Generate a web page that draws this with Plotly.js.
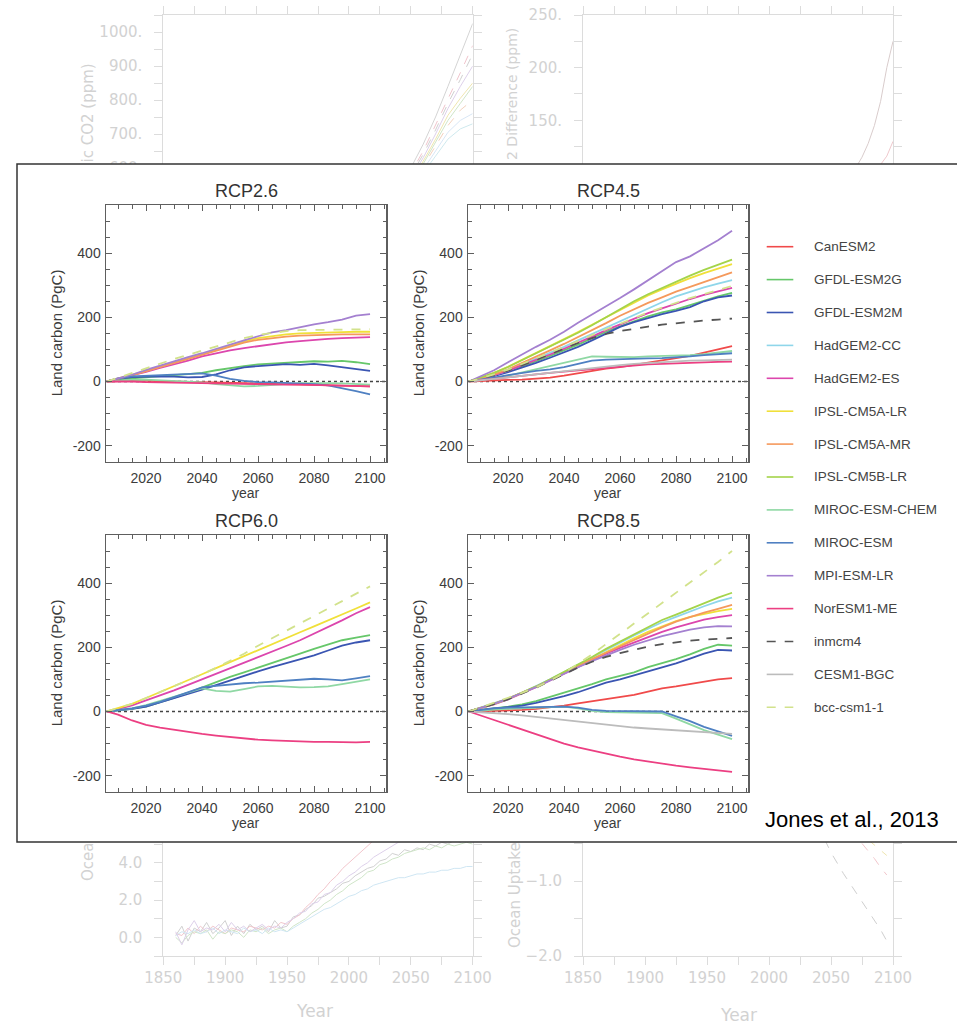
<!DOCTYPE html>
<html><head><meta charset="utf-8">
<script src="https://cdn.plot.ly/plotly-3.0.1.min.js"></script>
<style>
html,body{margin:0;padding:0;background:#fff;overflow:hidden;width:957px;height:1025px;}
#bg,#fg{position:absolute;left:0;top:0;width:957px;height:1025px;}
#fg{z-index:2;}
</style></head><body>
<div id="bg"></div><div id="fg"></div>
<script>
// ---------------- foreground data ----------------
const YEARS = [2006,2010,2015,2020,2025,2030,2035,2040,2045,2050,2055,2060,2065,2070,2075,2080,2085,2090,2095,2100];
const MODELS = ['CanESM2','GFDL-ESM2G','GFDL-ESM2M','HadGEM2-CC','HadGEM2-ES','IPSL-CM5A-LR','IPSL-CM5A-MR','IPSL-CM5B-LR','MIROC-ESM-CHEM','MIROC-ESM','MPI-ESM-LR','NorESM1-ME','inmcm4','CESM1-BGC','bcc-csm1-1'];
const COLORS = ['#f04a4a','#66c76a','#3a55b2','#8fd6ea','#dc46ad','#f0e03a','#f5995c','#a4d44a','#8fd8a4','#4f80c2','#a480d0','#ec3f82','#555555','#bcbcbc','#d2e28c'];
const DASHES = ['solid','solid','solid','solid','solid','solid','solid','solid','solid','solid','solid','solid','dash','solid','dash'];
const SCENARIOS = ['RCP2.6','RCP4.5','RCP6.0','RCP8.5'];
const X_TICKS = [2020,2040,2060,2080,2100];
const Y_TICKS = [-200,0,200,400];

const RCP26 = [
 [0,2,3,2,1,0,-2,-3,-4,-5,-6,-5,-6,-7,-8,-9,-10,-12,-14,-15],
 [0,6,10,14,17,20,23,27,35,42,48,53,56,58,62,63,62,64,60,54],
 [0,8,14,16,16,15,13,14,22,35,44,48,50,54,52,55,50,45,40,33],
 null,
 [0,8,18,30,42,53,65,78,88,97,104,110,117,122,126,130,133,135,137,138],
 [0,9,20,33,46,59,72,85,100,113,125,135,142,147,150,152,153,154,155,155],
 [0,8,19,32,45,58,71,84,97,110,121,130,136,140,143,145,146,147,147,147],
 null,
 [0,3,5,6,4,2,0,-3,-8,-12,-15,-14,-12,-8,-5,-4,-5,-6,-8,-10],
 [0,10,16,18,20,22,24,25,18,8,2,-2,-3,-4,-6,-8,-12,-20,-30,-40],
 [0,9,21,36,50,63,76,88,102,116,128,141,153,160,170,178,185,193,205,210],
 [0,1,0,-2,-3,-4,-5,-6,-7,-7,-8,-9,-9,-10,-10,-11,-12,-13,-14,-15],
 null,
 null,
 [0,12,26,42,57,70,83,96,110,124,135,145,152,157,160,161,162,163,164,163]
];
const RCP45 = [
 [0,2,4,5,6,8,12,18,26,34,40,45,52,60,66,72,80,90,100,110],
 [0,8,19,32,47,63,80,97,115,135,155,172,188,203,215,225,238,252,265,276],
 [0,7,17,29,43,58,74,90,108,128,150,170,185,198,210,220,232,250,262,268],
 [0,8,20,34,52,70,88,108,128,148,168,188,208,228,247,265,280,293,305,316],
 [0,8,20,34,50,67,84,102,120,140,160,178,196,213,228,243,257,270,282,292],
 [0,11,27,46,67,89,110,132,154,177,200,223,247,268,287,305,322,338,352,366],
 [0,9,22,38,57,77,97,117,138,160,182,205,225,245,262,280,295,310,325,340],
 [0,11,27,45,66,88,108,130,152,175,200,225,250,272,292,312,330,348,365,380],
 [0,4,10,18,28,38,48,60,70,78,77,76,76,78,79,80,82,85,90,95],
 [0,5,12,20,27,33,38,45,55,65,68,70,71,72,73,75,78,82,85,88],
 [0,15,35,60,85,108,130,155,183,208,233,260,287,315,345,372,390,415,440,470],
 [0,4,9,14,19,23,27,31,35,39,43,47,50,53,55,57,59,60,61,62],
 [0,8,20,34,50,67,85,103,120,135,148,157,165,171,177,182,186,190,193,196],
 [0,3,8,13,18,23,28,33,38,43,47,51,55,58,61,63,65,66,67,68],
 [0,9,22,37,54,72,90,108,127,145,163,180,198,215,230,245,260,272,285,298]
];
const RCP60 = [
 null,
 [0,3,8,15,28,42,58,75,92,108,122,136,150,165,180,195,208,222,230,238],
 [0,3,8,15,28,40,55,68,82,97,112,125,138,150,162,175,190,205,215,222],
 null,
 [0,7,19,34,50,66,83,100,117,134,151,168,186,204,222,242,262,284,306,325],
 [0,10,24,42,60,78,97,116,135,154,173,192,210,228,247,265,283,302,321,340],
 null,
 null,
 [0,4,10,20,33,45,58,72,64,62,70,78,80,77,75,76,78,85,92,100],
 [0,4,10,18,30,45,60,75,80,85,88,90,93,96,100,102,100,97,103,110],
 null,
 [0,-10,-28,-42,-50,-57,-63,-70,-75,-80,-85,-88,-90,-92,-93,-95,-95,-96,-96,-95],
 null,
 null,
 [0,10,24,42,60,78,97,116,136,158,180,205,228,252,275,298,320,345,368,390]
];
const RCP85 = [
 [0,1,2,3,5,8,12,18,25,32,38,45,52,62,72,78,85,92,100,104],
 [0,5,10,15,22,32,45,57,70,85,100,110,122,138,150,163,178,195,208,205],
 [0,4,8,12,18,27,37,48,60,75,90,100,112,125,138,150,165,180,192,190],
 [0,11,25,40,58,78,100,123,146,170,193,215,237,258,278,295,312,328,343,355],
 [0,9,22,38,56,76,97,118,140,160,180,198,215,232,248,262,275,286,294,300],
 [0,10,24,40,58,77,98,120,142,163,185,207,228,248,265,282,295,305,313,320],
 [0,10,24,40,58,77,98,120,142,163,183,203,222,242,262,280,295,308,320,332],
 [0,10,24,40,58,78,100,123,146,170,195,218,240,262,285,302,320,338,355,370],
 [0,3,6,8,10,12,14,15,10,2,-2,-3,-2,-3,-5,-22,-40,-58,-72,-86],
 [0,5,10,12,13,14,15,15,12,5,2,1,2,1,0,-15,-30,-48,-62,-76],
 [0,10,24,40,57,76,97,118,138,157,175,192,208,222,235,245,255,262,266,265],
 [0,-12,-27,-42,-57,-72,-87,-100,-112,-122,-132,-141,-149,-156,-163,-169,-174,-179,-184,-188],
 [0,10,23,38,55,74,95,117,137,155,170,182,193,202,210,216,221,224,227,229],
 [0,-2,-5,-8,-12,-17,-22,-27,-32,-37,-42,-46,-50,-53,-56,-59,-62,-65,-67,-70],
 [0,12,27,43,58,75,96,120,148,178,210,242,273,305,337,368,400,433,466,500]
];
const PANEL_DATA = [RCP26, RCP45, RCP60, RCP85];

// ---------------- faded background figure data ----------------
const BG_X_TICKS = [1850,1900,1950,2000,2050,2100];
const BG_TL_TICKS = [600,700,800,900,1000];
const BG_TR_TICKS = [150,200,250];
const BG_BL_TICKS = [0,2,4];
const BG_BR_TICKS = [-2,-1];
const BG_TITLES = ['ic CO2 (ppm)','2 Difference (ppm)','Ocea','Ocean Uptake','Year'];

const BG_TL_YEARS = [2040,2050,2060,2070,2080,2090,2100];
const BG_TL = [
 [540,600,670,750,840,930,1025],
 [530,585,650,725,805,880,960],
 [525,578,640,712,790,860,935],
 [520,570,630,700,775,840,900],
 [515,562,620,685,755,805,850],
 [510,558,612,675,740,790,840],
 [505,552,605,665,725,770,800],
 [500,545,595,650,705,740,760],
 [495,540,585,635,685,715,730]
];
const BG_TL_COLORS = ['#d4d4d4','#f0c4cc','#d0d0d0','#ddd0ea','#efe6b0','#cfe5c8','#f3d2bd','#d8e6f5','#cfe9ee'];
const BG_TL_DASH = ['solid','dash','dash','solid','solid','solid','dash','solid','solid'];

const BG_TR_YEARS_A = [2070,2075,2080,2085,2090,2095,2100];
const BG_TR_A = [105,115,128,145,168,200,225];
const BG_TR_YEARS_B = [2085,2090,2095,2100];
const BG_TR_B = [100,108,116,130];

const BG_BL_YEARS = [1860,1865,1870,1875,1880,1885,1890,1895,1900,1905,
 1910,1915,1920,1925,1930,1935,1940,1945,1950,1955,
 1960,1965,1970,1975,1980,1985,1990,1995,2000,2005,
 2010,2015,2020,2025,2030,2035,2040,2045,2050,2055,
 2060,2065,2070,2075,2080,2085,2090,2095,2100];
const BG_BL = [
 [0.1,0.6,-0.2,0.5,0.3,0.8,0.2,0.5,0.9,0.1, 0.6,0.2,0.7,0.4,0.6,0.3,0.9,0.5,0.6,1.1, 1.2,1.5,1.7,2.1,2.2,2.4,2.6,2.9,3.0,3.3, 3.5,3.7,3.8,4.1,4.2,4.5,4.4,4.7,4.6,4.8, 4.7,5.0,4.9,5.1,5.0,5.2,5.1,5.3,5.2],
 [0.2,0.1,0.5,0.2,0.6,0.3,0.6,0.4,0.2,0.5, 0.4,0.3,0.6,0.5,0.4,0.6,0.5,0.8,0.7,1.0, 1.2,1.6,1.9,2.3,2.6,3.0,3.3,3.7,4.0,4.3, 4.6,4.9,5.2,5.4,5.6,5.8,6.0,6.2,6.4,6.6, 6.8,7.0,7.2,7.4,7.6,7.8,8.0,8.2,8.4],
 [0.0,-0.3,0.1,0.3,0.2,0.4,-0.1,0.3,0.2,0.4, 0.3,0.0,0.4,0.3,0.5,0.2,0.4,0.5,0.3,0.6, 0.8,1.0,1.3,1.5,1.8,2.0,2.3,2.5,2.8,3.0, 3.2,3.5,3.6,3.9,4.0,4.2,4.3,4.5,4.6,4.7, 4.8,4.7,4.9,4.8,5.0,4.9,5.0,5.1,5.0],
 [0.1,0.3,0.2,0.4,0.2,0.3,0.5,0.2,0.4,0.3, 0.2,0.5,0.3,0.4,0.2,0.5,0.3,0.4,0.3,0.5, 0.7,0.9,1.1,1.3,1.5,1.6,1.8,2.0,2.2,2.3, 2.5,2.6,2.8,2.9,3.0,3.1,3.2,3.2,3.3,3.4, 3.4,3.5,3.5,3.6,3.6,3.7,3.7,3.8,3.8],
 [0.3,-0.4,0.4,0.9,0.3,0.5,0.4,0.7,0.3,0.8, 0.4,0.6,0.3,0.5,0.7,0.4,0.6,0.5,0.8,1.0, 1.3,1.4,1.8,1.9,2.3,2.4,2.8,3.0,3.3,3.5, 3.8,4.0,4.3,4.5,4.7,4.9,5.1,5.2,5.4,5.5, 5.7,5.8,6.0,6.1,6.2,6.4,6.5,6.6,6.8]
];
const BG_BL_COLORS = ['#d0d0d0','#f2c6cc','#cfe5c8','#cfe6f3','#ddd0ea'];

const BG_BR_YEARS_A = [2045,2050,2060,2070,2080,2090,2095];
const BG_BR_A = [-0.45,-0.62,-0.9,-1.15,-1.4,-1.65,-1.8];
const BG_BR_YEARS_B = [2075,2080,2085,2090,2095];
const BG_BR_B = [-0.5,-0.6,-0.7,-0.82,-0.92];
const BG_BR_YEARS_C = [2080,2085,2090,2095];
const BG_BR_C = [-0.45,-0.52,-0.58,-0.66];

// ---------------- helpers ----------------
const W = 957, H = 1025;
const px = v => v / W;
const py = v => 1 - v / H;
const FONT = 'Liberation Sans, Arial, Helvetica, sans-serif';
const BGFONT = 'DejaVu Sans, sans-serif';
const LC = '#dcdcdc';
const TC = '#d2d2d2';

// ================= background figure =================
const bgTraces = [];
BG_TL.forEach((v, i) => bgTraces.push({x: BG_TL_YEARS, y: v, xaxis: 'x', yaxis: 'y', mode: 'lines',
  line: {color: BG_TL_COLORS[i], width: 1, dash: BG_TL_DASH[i]}, hoverinfo: 'skip'}));
bgTraces.push({x: BG_TR_YEARS_A, y: BG_TR_A, xaxis: 'x2', yaxis: 'y2', mode: 'lines', line: {color: '#d9cccc', width: 1}});
bgTraces.push({x: BG_TR_YEARS_B, y: BG_TR_B, xaxis: 'x2', yaxis: 'y2', mode: 'lines', line: {color: '#efc8cc', width: 1}});
BG_BL.forEach((v, i) => bgTraces.push({x: BG_BL_YEARS, y: v, xaxis: 'x3', yaxis: 'y3', mode: 'lines',
  line: {color: BG_BL_COLORS[i], width: 1}}));
bgTraces.push({x: BG_BR_YEARS_A, y: BG_BR_A, xaxis: 'x4', yaxis: 'y4', mode: 'lines', line: {color: '#cfcfcf', width: 1, dash: 'dash'}});
bgTraces.push({x: BG_BR_YEARS_B, y: BG_BR_B, xaxis: 'x4', yaxis: 'y4', mode: 'lines', line: {color: '#f2c6cc', width: 1, dash: 'dash'}});
bgTraces.push({x: BG_BR_YEARS_C, y: BG_BR_C, xaxis: 'x4', yaxis: 'y4', mode: 'lines', line: {color: '#efe6b0', width: 1, dash: 'dash'}});

const bgAx = {showline: true, linecolor: LC, linewidth: 1, mirror: 'allticks', ticks: 'outside', ticklen: 8,
  tickcolor: LC, tickwidth: 1, showgrid: false, zeroline: false, fixedrange: true,
  tickfont: {family: BGFONT, size: 15, color: TC}};
const bgX = (dom, labels) => Object.assign({}, bgAx, {domain: dom, range: [1850, 2100], tickmode: 'array',
  tickvals: BG_X_TICKS, ticktext: BG_X_TICKS.map(String), ticklabelstandoff: 0, showticklabels: labels,
  minor: {tickmode: 'linear', tick0: 1850, dtick: 25, ticklen: 8, tickcolor: LC, ticks: 'outside'}});
const bgY = (dom, rng, vals, txt, mdt) => Object.assign({}, bgAx, {domain: dom, range: rng, tickmode: 'array',
  tickvals: vals, ticktext: txt, ticklabelstandoff: 9,
  minor: {tickmode: 'linear', tick0: 0, dtick: mdt, ticklen: 8, tickcolor: LC, ticks: 'outside'}});

const XL = [px(163.3), px(472.7)], XR = [px(583), px(893)];
const bgT = (text, x, y, ya, size) => ({text: text, textangle: -90, xref: 'paper', yref: 'paper', x: px(x), y: py(y),
  xanchor: 'center', yanchor: ya, showarrow: false, font: {family: BGFONT, size: size, color: TC}});
const bgLayout = {
  width: W, height: H, margin: {l: 0, r: 0, t: 0, b: 0}, paper_bgcolor: '#ffffff', plot_bgcolor: 'rgba(0,0,0,0)',
  showlegend: false,
  xaxis: Object.assign(bgX(XL, false), {anchor: 'y'}),
  yaxis: Object.assign(bgY([py(270), py(15)], [300, 1050], BG_TL_TICKS, BG_TL_TICKS.map(v => v + '.'), 50), {anchor: 'x'}),
  xaxis2: Object.assign(bgX(XR, false), {anchor: 'y2'}),
  yaxis2: Object.assign(bgY([py(278.3), py(15)], [0, 250], BG_TR_TICKS, BG_TR_TICKS.map(v => v + '.'), 25), {anchor: 'x2'}),
  xaxis3: Object.assign(bgX(XL, true), {anchor: 'y3'}),
  yaxis3: Object.assign(bgY([py(956), py(750.9)], [-1, 10], BG_BL_TICKS, BG_BL_TICKS.map(v => v.toFixed(1)), 1), {anchor: 'x3'}),
  xaxis4: Object.assign(bgX(XR, true), {anchor: 'y4'}),
  yaxis4: Object.assign(bgY([py(956), py(731)], [-2, 1], BG_BR_TICKS, BG_BR_TICKS.map(v => v.toFixed(1).replace('-', '\u2212')), 0.5), {anchor: 'x4'}),
  annotations: [
    bgT(BG_TITLES[0], 87, 62, 'top', 15),
    bgT(BG_TITLES[1], 512, 26, 'top', 14),
    bgT(BG_TITLES[2], 88, 883, 'bottom', 15),
    bgT(BG_TITLES[3], 515, 950, 'bottom', 15),
    {text: BG_TITLES[4], xref: 'paper', yref: 'paper', x: px(314), y: py(1011), xanchor: 'center', yanchor: 'middle', showarrow: false, font: {family: BGFONT, size: 17, color: TC}},
    {text: BG_TITLES[4], xref: 'paper', yref: 'paper', x: px(738), y: py(1015), xanchor: 'center', yanchor: 'middle', showarrow: false, font: {family: BGFONT, size: 17, color: TC}}
  ]
};
Plotly.newPlot('bg', bgTraces, bgLayout, {staticPlot: true, displayModeBar: false});

// ================= foreground figure =================
const PANEL_X = [[106, 386], [468, 748], [106, 386], [468, 748]];
const PANEL_Y = [[205, 461.7], [205, 461.7], [535, 791.7], [535, 791.7]];
const AXC = '#5e5e5e';
const fgTraces = [];
PANEL_DATA.forEach((vals, p) => {
  const sfx = p === 0 ? '' : String(p + 1);
  vals.forEach((v, m) => {
    if (!v) return;
    fgTraces.push({x: YEARS, y: v, xaxis: 'x' + sfx, yaxis: 'y' + sfx, mode: 'lines', name: MODELS[m],
      line: {color: COLORS[m], width: 1.8, dash: DASHES[m]}, hoverinfo: 'skip', showlegend: false});
  });
});

const fgLayout = {
  width: W, height: H, margin: {l: 0, r: 0, t: 0, b: 0},
  paper_bgcolor: 'rgba(0,0,0,0)', plot_bgcolor: 'rgba(0,0,0,0)', showlegend: false,
  shapes: [{type: 'rect', xref: 'paper', yref: 'paper', x0: px(17), x1: 1.05, y0: py(842), y1: py(164),
    fillcolor: '#ffffff', line: {color: '#333333', width: 1.5}, layer: 'below'}],
  annotations: []
};
for (let p = 0; p < 4; p++) {
  const sfx = p === 0 ? '' : String(p + 1);
  const [x0, x1] = PANEL_X[p], [y0, y1] = PANEL_Y[p];
  fgLayout['xaxis' + sfx] = {
    domain: [px(x0), px(x1)], anchor: 'y' + sfx, range: [2005.7, 2105.7], tickmode: 'array', tickvals: X_TICKS,
    ticktext: X_TICKS.map(String), ticks: 'inside', ticklen: 6, tickwidth: 1, tickcolor: AXC,
    showline: true, linecolor: AXC, linewidth: 1.5, mirror: 'allticks', showgrid: false, zeroline: false,
    fixedrange: true, ticklabelstandoff: 3, tickfont: {family: FONT, size: 14, color: '#3c3c3c'},
    minor: {tickmode: 'linear', tick0: 2000, dtick: 5, ticklen: 3.5, tickwidth: 1, tickcolor: AXC, ticks: 'inside'}
  };
  fgLayout['yaxis' + sfx] = {
    domain: [py(y1), py(y0)], anchor: 'x' + sfx, range: [-250, 550], tickmode: 'array', tickvals: Y_TICKS,
    ticktext: Y_TICKS.map(String), ticks: 'inside', ticklen: 6, tickwidth: 1, tickcolor: AXC,
    showline: true, linecolor: AXC, linewidth: 1.5, mirror: 'allticks', showgrid: false, zeroline: false,
    fixedrange: true, ticklabelstandoff: 1, tickfont: {family: FONT, size: 14, color: '#3c3c3c'},
    minor: {tickmode: 'linear', tick0: 0, dtick: 50, ticklen: 3.5, tickwidth: 1, tickcolor: AXC, ticks: 'inside'}
  };
  fgLayout.shapes.push({type: 'line', xref: 'x' + sfx + ' domain', yref: 'y' + sfx, x0: 0, x1: 1, y0: 0, y1: 0,
    line: {color: '#444444', width: 1.3, dash: 'dot'}, layer: 'below'});
  const cx = px((x0 + x1) / 2);
  fgLayout.annotations.push(
    {text: SCENARIOS[p], xref: 'paper', yref: 'paper', x: cx, y: py(y0 - 14), xanchor: 'center', yanchor: 'middle',
     showarrow: false, font: {family: FONT, size: 18, color: '#333333'}},
    {text: 'year', xref: 'paper', yref: 'paper', x: cx, y: py(y1 + 31), xanchor: 'center', yanchor: 'middle',
     showarrow: false, font: {family: FONT, size: 14, color: '#3c3c3c'}},
    {text: 'Land carbon (PgC)', textangle: -90, xref: 'paper', yref: 'paper', x: px(x0 - 50), y: py((y0 + y1) / 2),
     xanchor: 'center', yanchor: 'middle', showarrow: false, font: {family: FONT, size: 15, color: '#3c3c3c'}}
  );
}
// legend (built from MODELS / COLORS / DASHES)
const LEG_X0 = 766.7, LEG_X1 = 793.3, LEG_TX = 811.7, LEG_Y0 = 246.7, LEG_DY = 32.9;
MODELS.forEach((name, i) => {
  const yy = py(LEG_Y0 + i * LEG_DY);
  fgLayout.shapes.push({type: 'line', xref: 'paper', yref: 'paper', x0: px(LEG_X0), x1: px(LEG_X1), y0: yy, y1: yy,
    line: {color: COLORS[i], width: 1.6, dash: DASHES[i]}, layer: 'above'});
  fgLayout.annotations.push({text: name, xref: 'paper', yref: 'paper', x: px(LEG_TX), y: yy, xanchor: 'left',
    yanchor: 'middle', showarrow: false, font: {family: FONT, size: 13.5, color: '#444444'}});
});
fgLayout.annotations.push({text: 'Jones et al., 2013', xref: 'paper', yref: 'paper', x: px(763), y: py(819.5),
  xanchor: 'left', yanchor: 'middle', showarrow: false, font: {family: FONT, size: 22, color: '#000000'}});

Plotly.newPlot('fg', fgTraces, fgLayout, {staticPlot: true, displayModeBar: false});
</script></body></html>
